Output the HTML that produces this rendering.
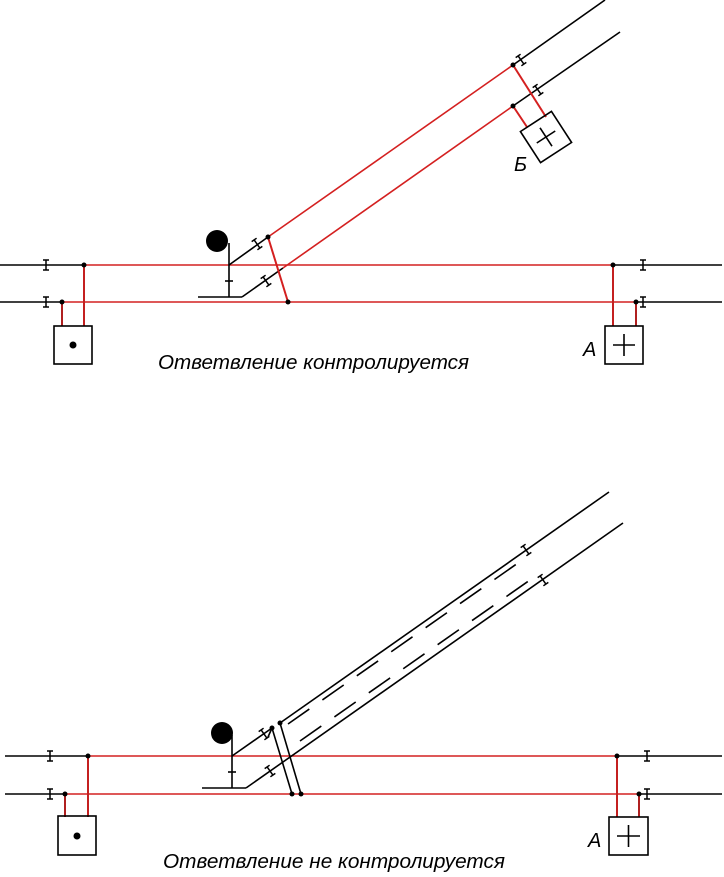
<!DOCTYPE html>
<html><head><meta charset="utf-8"><style>
html,body{margin:0;padding:0;background:#fff;}
svg{display:block;}
text{font-family:"Liberation Sans","DejaVu Sans",sans-serif;font-style:italic;}
</style></head><body>
<svg width="724" height="877" viewBox="0 0 724 877" xmlns="http://www.w3.org/2000/svg">
<defs>
<g id="tie"><line x1="0" y1="-5" x2="0" y2="5" stroke="#000" stroke-width="1.5"/><line x1="-3" y1="-5" x2="3" y2="-5" stroke="#000" stroke-width="1.5"/><line x1="-3" y1="5" x2="3" y2="5" stroke="#000" stroke-width="1.5"/></g>
</defs>

<!-- ===== TOP DIAGRAM ===== -->
<g stroke-width="1.6" fill="none">
<line x1="0" y1="265" x2="84" y2="265" stroke="#000"/>
<line x1="613" y1="265" x2="722" y2="265" stroke="#000"/>
<line x1="0" y1="302" x2="62" y2="302" stroke="#000"/>
<line x1="636" y1="302" x2="722" y2="302" stroke="#000"/>
<line x1="84" y1="265" x2="613" y2="265" stroke="#d42020"/>
<line x1="62" y1="302" x2="636" y2="302" stroke="#d42020"/>
<line x1="84" y1="265" x2="84" y2="326" stroke="#c42020" stroke-width="2"/>
<line x1="62" y1="302" x2="62" y2="326" stroke="#b02020" stroke-width="2"/>
<line x1="613" y1="265" x2="613" y2="326" stroke="#c42020" stroke-width="2"/>
<line x1="636" y1="302" x2="636" y2="326" stroke="#b02020" stroke-width="2"/>
<line x1="229" y1="265" x2="268" y2="237" stroke="#000"/>
<line x1="268" y1="237" x2="513" y2="65" stroke="#d42020"/>
<line x1="513" y1="65" x2="605" y2="0" stroke="#000"/>
<line x1="242" y1="297" x2="283" y2="268" stroke="#000"/>
<line x1="283" y1="268" x2="513" y2="106" stroke="#d42020"/>
<line x1="513" y1="106" x2="620" y2="32" stroke="#000"/>
<line x1="268" y1="237" x2="288" y2="302" stroke="#d42020" stroke-width="2"/>
<line x1="513" y1="65" x2="546" y2="117" stroke="#d42020" stroke-width="2"/>
<line x1="513" y1="106" x2="527" y2="127" stroke="#d42020" stroke-width="2"/>
<circle cx="217" cy="241" r="11" fill="#000" stroke="none"/>
<line x1="229" y1="243" x2="229" y2="297" stroke="#000"/>
<line x1="225" y1="281" x2="233" y2="281" stroke="#000"/>
<line x1="198" y1="297" x2="242" y2="297" stroke="#000"/>
<rect x="54" y="326" width="38" height="38" stroke="#000"/>
<circle cx="73" cy="345" r="3.5" fill="#000" stroke="none"/>
<rect x="605" y="326" width="38" height="38" stroke="#000"/>
<line x1="624" y1="334" x2="624" y2="356" stroke="#000"/>
<line x1="613" y1="345" x2="635" y2="345" stroke="#000"/>
<g transform="translate(546,137) rotate(-33)">
<rect x="-18.5" y="-18.5" width="37" height="37" stroke="#000"/>
<line x1="0" y1="-11" x2="0" y2="11" stroke="#000"/>
<line x1="-11" y1="0" x2="11" y2="0" stroke="#000"/>
</g>
</g>
<g fill="#000">
<circle cx="84" cy="265" r="2.5"/><circle cx="62" cy="302" r="2.5"/>
<circle cx="613" cy="265" r="2.5"/><circle cx="636" cy="302" r="2.5"/>
<circle cx="268" cy="237" r="2.5"/><circle cx="288" cy="302" r="2.5"/>
<circle cx="513" cy="65" r="2.5"/><circle cx="513" cy="106" r="2.5"/>
</g>
<use href="#tie" x="46" y="265"/><use href="#tie" x="46" y="302"/>
<use href="#tie" x="643" y="265"/><use href="#tie" x="643" y="302"/>
<use href="#tie" transform="translate(257,244) rotate(-35)"/>
<use href="#tie" transform="translate(266,281) rotate(-35)"/>
<use href="#tie" transform="translate(521,60) rotate(-35)"/>
<use href="#tie" transform="translate(538,90) rotate(-35)"/>
<text x="514" y="171" font-size="20">Б</text>
<text x="583" y="356" font-size="20">А</text>
<text x="158" y="369" font-size="20" textLength="311" lengthAdjust="spacingAndGlyphs">Ответвление контролируется</text>

<!-- ===== BOTTOM DIAGRAM ===== -->
<g stroke-width="1.6" fill="none">
<line x1="5" y1="756" x2="88" y2="756" stroke="#000"/>
<line x1="617" y1="756" x2="722" y2="756" stroke="#000"/>
<line x1="5" y1="794" x2="65" y2="794" stroke="#000"/>
<line x1="639" y1="794" x2="722" y2="794" stroke="#000"/>
<line x1="88" y1="756" x2="617" y2="756" stroke="#d42020"/>
<line x1="65" y1="794" x2="639" y2="794" stroke="#d42020"/>
<line x1="88" y1="756" x2="88" y2="817" stroke="#c42020" stroke-width="2"/>
<line x1="65" y1="794" x2="65" y2="817" stroke="#b02020" stroke-width="2"/>
<line x1="617" y1="756" x2="617" y2="817" stroke="#c42020" stroke-width="2"/>
<line x1="639" y1="794" x2="639" y2="817" stroke="#b02020" stroke-width="2"/>
<line x1="232" y1="756" x2="272" y2="728" stroke="#000"/>
<line x1="268" y1="737" x2="272" y2="728" stroke="#000"/>
<line x1="280" y1="723" x2="609" y2="492" stroke="#000"/>
<line x1="246" y1="788" x2="623" y2="523" stroke="#000"/>
<line x1="288" y1="724" x2="528" y2="556" stroke="#000" stroke-dasharray="26,16"/>
<line x1="300" y1="741" x2="540" y2="573" stroke="#000" stroke-dasharray="26,16"/>
<line x1="272" y1="728" x2="292" y2="794" stroke="#000"/>
<line x1="280" y1="723" x2="301" y2="794" stroke="#000"/>
<circle cx="222" cy="733" r="11" fill="#000" stroke="none"/>
<line x1="232" y1="735" x2="232" y2="788" stroke="#000"/>
<line x1="228" y1="772" x2="236" y2="772" stroke="#000"/>
<line x1="202" y1="788" x2="246" y2="788" stroke="#000"/>
<rect x="58" y="816" width="38" height="39" stroke="#000"/>
<circle cx="77" cy="836" r="3.5" fill="#000" stroke="none"/>
<rect x="609" y="817" width="39" height="38" stroke="#000"/>
<line x1="628.5" y1="825" x2="628.5" y2="847" stroke="#000"/>
<line x1="617" y1="836" x2="640" y2="836" stroke="#000"/>
</g>
<g fill="#000">
<circle cx="88" cy="756" r="2.5"/><circle cx="65" cy="794" r="2.5"/>
<circle cx="617" cy="756" r="2.5"/><circle cx="639" cy="794" r="2.5"/>
<circle cx="272" cy="728" r="2.5"/><circle cx="280" cy="723" r="2.5"/>
<circle cx="292" cy="794" r="2.5"/><circle cx="301" cy="794" r="2.5"/>
</g>
<use href="#tie" x="50" y="756"/><use href="#tie" x="50" y="794"/>
<use href="#tie" x="647" y="756"/><use href="#tie" x="647" y="794"/>
<use href="#tie" transform="translate(264,734) rotate(-35)"/>
<use href="#tie" transform="translate(270,771) rotate(-35)"/>
<use href="#tie" transform="translate(526,550) rotate(-35)"/>
<use href="#tie" transform="translate(543,580) rotate(-35)"/>
<text x="588" y="847" font-size="20">А</text>
<text x="163" y="868" font-size="20" textLength="342" lengthAdjust="spacingAndGlyphs">Ответвление не контролируется</text>
</svg>
</body></html>
